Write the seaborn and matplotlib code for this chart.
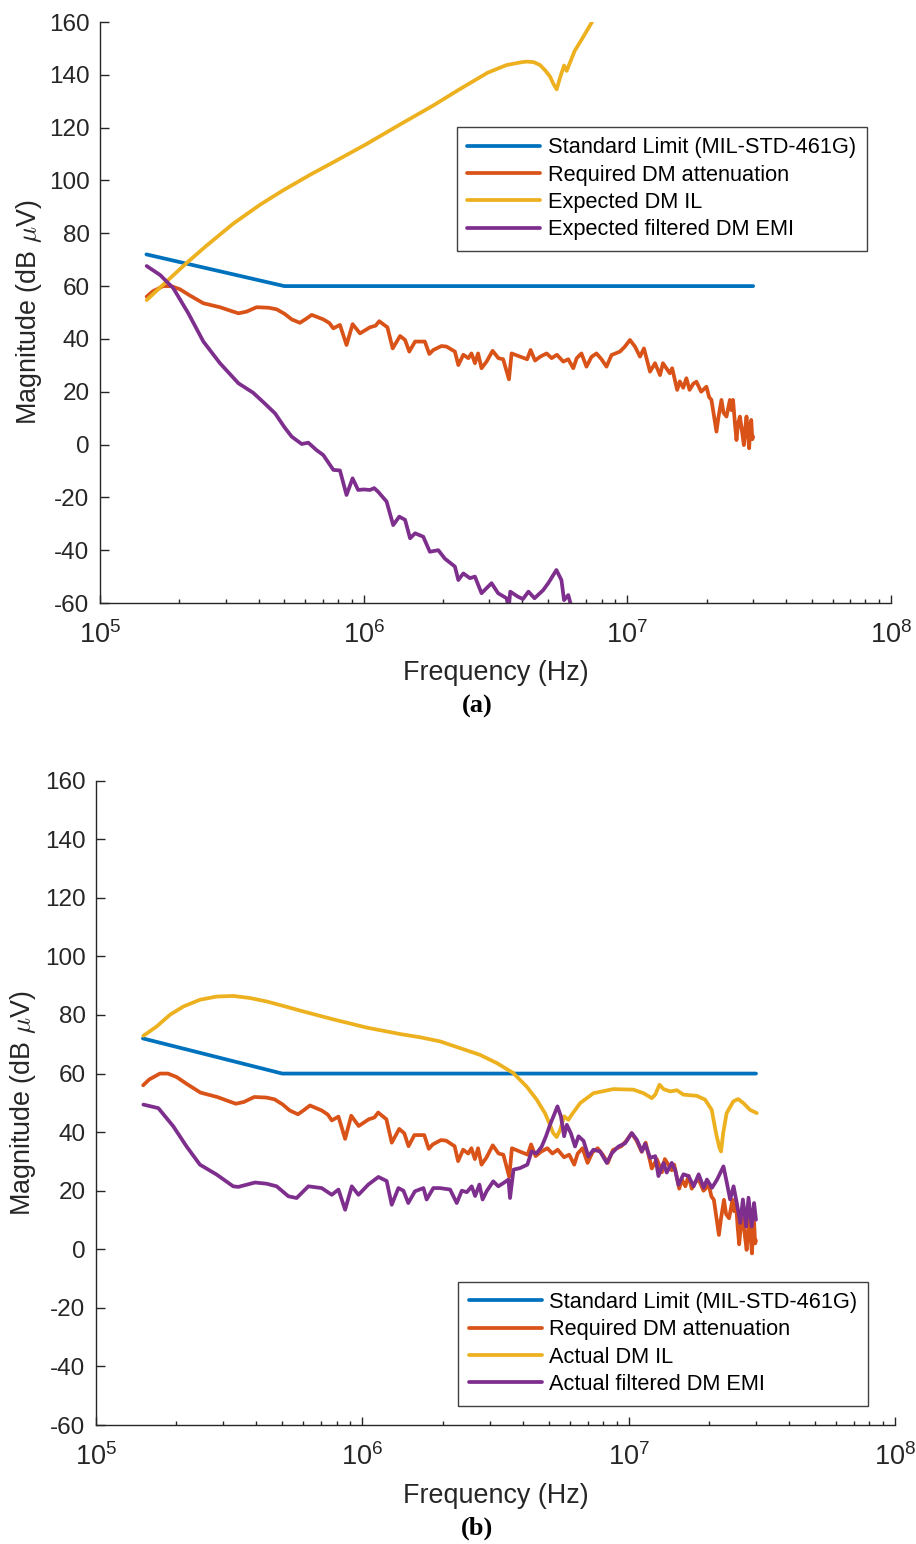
import numpy as np
import matplotlib
matplotlib.use("Agg")
import matplotlib.pyplot as plt
import seaborn as sns
from matplotlib.ticker import LogLocator, NullFormatter, MultipleLocator
from matplotlib.lines import Line2D

sns.set_style("white")
plt.rcParams["font.family"] = ["Liberation Sans", "DejaVu Sans"]
plt.rcParams["mathtext.fontset"] = "cm"
plt.rcParams["axes.unicode_minus"] = False

# ---------------------------------------------------------------- data
# MIL-STD-461G limit (frequency in Hz, level in dB uV)
limit_f = [1.5e5, 5e5, 3e7]
limit_db = [72, 60, 60]

# Required DM attenuation; frequencies stored as log10(Hz)
req_logf = [5.177, 5.200, 5.240, 5.270, 5.303, 5.340, 5.392, 5.455, 5.500, 5.525,
            5.555, 5.594, 5.640, 5.670, 5.700, 5.727, 5.758, 5.780, 5.803, 5.847,
            5.870, 5.885, 5.910, 5.935, 5.958, 5.986, 6.024, 6.045, 6.059, 6.075,
            6.090, 6.110, 6.138, 6.157, 6.173, 6.195, 6.232, 6.249, 6.264, 6.295,
            6.314, 6.346, 6.359, 6.378, 6.397, 6.409, 6.422, 6.434, 6.447, 6.466,
            6.489, 6.511, 6.529, 6.551, 6.561, 6.593, 6.620, 6.633, 6.650, 6.670,
            6.694, 6.713, 6.733, 6.757, 6.776, 6.795, 6.808, 6.826, 6.845, 6.864,
            6.883, 6.902, 6.921, 6.940, 6.972, 6.990, 7.010, 7.029, 7.048, 7.063,
            7.086, 7.105, 7.124, 7.135, 7.161, 7.170, 7.189, 7.199, 7.212, 7.224,
            7.236, 7.250, 7.262, 7.280, 7.300, 7.310, 7.319, 7.330, 7.338, 7.345,
            7.357, 7.365, 7.376, 7.389, 7.395, 7.401, 7.408, 7.414, 7.420, 7.427,
            7.435, 7.442, 7.447, 7.452, 7.457, 7.462, 7.467, 7.470, 7.474, 7.477]
req_db = [56.0, 58.0, 60.0, 60.0, 58.8, 56.5, 53.5, 52.0, 50.5, 49.7,
          50.3, 52.0, 51.8, 51.2, 49.5, 47.4, 46.1, 47.5, 49.1, 47.4,
          46.0, 44.0, 45.3, 37.7, 45.6, 42.1, 44.4, 45.0, 46.7, 45.5,
          44.4, 36.4, 41.1, 39.6, 35.2, 39.0, 39.0, 34.3, 35.8, 37.3,
          37.1, 35.2, 30.1, 34.0, 32.7, 34.5, 30.8, 34.5, 28.9, 31.4,
          35.5, 32.7, 32.3, 24.7, 34.5, 33.3, 32.3, 35.8, 31.8, 33.3,
          34.5, 32.7, 34.0, 31.4, 32.3, 28.9, 32.7, 34.5, 29.5, 33.2,
          34.5, 32.3, 29.5, 33.9, 35.2, 37.0, 39.6, 37.1, 33.3, 36.4,
          27.6, 30.8, 26.3, 30.8, 27.0, 28.9, 20.7, 23.9, 21.5, 25.1,
          20.7, 23.0, 23.8, 20.0, 21.9, 18.0, 16.9, 10.0, 4.9, 10.0,
          16.9, 12.0, 10.6, 16.9, 13.0, 16.9, 8.0, 1.7, 8.0, 10.6,
          5.0, -0.2, 6.0, 10.6, 4.0, -1.4, 8.0, 9.3, 2.0, 3.0]

# Expected DM insertion loss (designed filter)
exp_il_logf = [5.177, 5.253, 5.329, 5.405, 5.506, 5.607, 5.695, 5.796, 5.885, 6.011,
               6.138, 6.264, 6.365, 6.416, 6.470, 6.542, 6.600, 6.618, 6.645, 6.669,
               6.690, 6.707, 6.720, 6.732, 6.745, 6.760, 6.770, 6.780, 6.800, 6.833,
               6.866]
exp_il_db = [54.7, 61.8, 68.8, 75.4, 83.7, 90.8, 96.3, 102.1, 106.9, 113.8,
             121.2, 128.4, 134.6, 137.6, 140.8, 143.7, 144.8, 145.0, 144.8, 143.7,
             141.5, 139.3, 136.5, 134.5, 139.0, 143.5, 141.5, 144.0, 149.0, 154.4,
             160.0]

# Expected filtered DM EMI
exp_emi_logf = [5.177, 5.228, 5.278, 5.335, 5.392, 5.455, 5.525, 5.581, 5.620, 5.664,
                5.700, 5.727, 5.765, 5.790, 5.820, 5.847, 5.885, 5.910, 5.935, 5.958,
                5.979, 6.000, 6.024, 6.040, 6.056, 6.087, 6.112, 6.135, 6.157, 6.176,
                6.195, 6.226, 6.251, 6.283, 6.308, 6.346, 6.359, 6.378, 6.403, 6.422,
                6.447, 6.485, 6.510, 6.542, 6.550, 6.556, 6.585, 6.604, 6.625, 6.648,
                6.681, 6.700, 6.731, 6.750, 6.760, 6.776, 6.800]
exp_emi_db = [67.6, 64.2, 59.2, 49.7, 39.0, 30.8, 23.2, 19.6, 16.0, 11.8,
              6.5, 3.0, 0.2, 0.7, -2.0, -4.0, -9.6, -9.8, -19.1, -12.8,
              -17.2, -17.0, -17.2, -16.5, -18.0, -21.6, -30.5, -27.3, -28.5, -35.5,
              -33.6, -34.9, -40.6, -40.0, -43.2, -46.2, -51.3, -48.8, -50.6, -50.0,
              -56.3, -52.5, -56.3, -58.2, -62.0, -55.7, -57.6, -58.5, -55.7, -58.2,
              -55.1, -52.5, -47.5, -51.3, -58.9, -57.0, -66.0]

# Actual (measured) DM insertion loss
act_il_logf = [5.178, 5.228, 5.278, 5.328, 5.390, 5.453, 5.515, 5.578, 5.641, 5.703,
               5.766, 5.891, 6.016, 6.141, 6.216, 6.291, 6.366, 6.441, 6.504, 6.566,
               6.616, 6.654, 6.685, 6.704, 6.716, 6.729, 6.742, 6.757, 6.773, 6.785,
               6.817, 6.867, 6.942, 7.017, 7.055, 7.086, 7.099, 7.115, 7.130, 7.155,
               7.180, 7.205, 7.255, 7.286, 7.311, 7.327, 7.340, 7.346, 7.354, 7.367,
               7.392, 7.410, 7.430, 7.455, 7.480]
act_il_db = [72.9, 76.1, 80.1, 82.9, 85.2, 86.3, 86.5, 85.8, 84.6, 83.1,
             81.5, 78.5, 75.7, 73.5, 72.4, 71.0, 68.7, 66.4, 63.6, 60.2,
             55.6, 51.1, 46.5, 42.5, 39.7, 38.3, 40.8, 45.4, 44.2, 45.9,
             49.9, 53.3, 54.7, 54.5, 53.3, 51.6, 52.8, 56.2, 54.7, 53.9,
             54.3, 52.8, 52.4, 51.1, 47.6, 39.7, 34.6, 33.4, 39.7, 46.5,
             50.5, 51.3, 49.9, 47.6, 46.5]

# Actual filtered DM EMI
act_emi_logf = [5.178, 5.234, 5.290, 5.340, 5.390, 5.453, 5.515, 5.534, 5.597, 5.640,
                5.678, 5.722, 5.753, 5.797, 5.847, 5.885, 5.910, 5.935, 5.960, 5.985,
                6.022, 6.060, 6.091, 6.110, 6.135, 6.154, 6.172, 6.197, 6.229, 6.241,
                6.266, 6.291, 6.329, 6.354, 6.373, 6.392, 6.410, 6.423, 6.439, 6.451,
                6.466, 6.491, 6.510, 6.529, 6.548, 6.554, 6.567, 6.591, 6.619, 6.635,
                6.653, 6.673, 6.689, 6.704, 6.717, 6.732, 6.745, 6.757, 6.767, 6.782,
                6.798, 6.811, 6.830, 6.848, 6.867, 6.892, 6.917, 6.936, 6.961, 6.986,
                7.011, 7.030, 7.049, 7.061, 7.080, 7.099, 7.111, 7.130, 7.142, 7.161,
                7.174, 7.186, 7.205, 7.224, 7.243, 7.262, 7.281, 7.293, 7.312, 7.331,
                7.355, 7.368, 7.380, 7.393, 7.405, 7.418, 7.428, 7.440, 7.449, 7.461,
                7.470, 7.477]
act_emi_db = [49.4, 48.2, 42.0, 35.1, 28.9, 25.5, 21.5, 21.3, 22.8, 22.4,
              21.5, 18.1, 17.5, 21.5, 20.9, 18.6, 20.4, 13.5, 21.5, 18.6,
              22.1, 24.7, 23.3, 15.2, 20.9, 20.0, 15.8, 19.8, 20.9, 17.0,
              20.9, 20.9, 20.4, 15.8, 20.0, 19.5, 21.5, 18.2, 22.1, 17.0,
              19.8, 23.2, 21.5, 22.6, 23.8, 17.5, 27.2, 27.7, 28.9, 33.4,
              32.7, 35.1, 38.6, 42.5, 45.4, 48.8, 45.4, 38.6, 42.5, 39.7,
              35.1, 38.6, 37.0, 31.7, 34.0, 33.4, 29.5, 32.8, 35.1, 36.2,
              39.7, 37.4, 33.4, 36.0, 31.2, 31.8, 25.0, 29.5, 26.2, 29.5,
              27.0, 22.0, 25.6, 25.0, 21.5, 25.6, 21.0, 23.8, 21.0, 23.8,
              28.3, 22.6, 17.0, 21.5, 15.8, 9.0, 17.0, 7.8, 17.6, 7.8,
              15.8, 10.1]

# MATLAB-like default line colours
C_BLUE, C_ORANGE, C_YELLOW, C_PURPLE = "#0072BD", "#D95319", "#EDB120", "#7E2F8E"
TXT = "#262626"

panels = [
    dict(rect=[100 / 916, 1 - 603 / 1544, 791 / 916, 581 / 1544],
         il=(exp_il_logf, exp_il_db), emi=(exp_emi_logf, exp_emi_db),
         labels=["Standard Limit (MIL-STD-461G)", "Required DM attenuation",
                 "Expected DM IL", "Expected filtered DM EMI"],
         legend_anchor=(0.4513, 0.8193), ylab_x=-0.071, xlab_y=-0.098,
         tag="(a)", tag_y=706),
    dict(rect=[96 / 916, 1 - 1425 / 1544, 799.3 / 916, 644.3 / 1544],
         il=(act_il_logf, act_il_db), emi=(act_emi_logf, act_emi_db),
         labels=["Standard Limit (MIL-STD-461G)", "Required DM attenuation",
                 "Actual DM IL", "Actual filtered DM EMI"],
         legend_anchor=(0.4533, 0.2225), ylab_x=-0.073, xlab_y=-0.090,
         tag="(b)", tag_y=1528),
]

fig = plt.figure(figsize=(9.16, 15.44), dpi=100)
LW = 2.7

for p in panels:
    ax = fig.add_axes(p["rect"])
    series = [
        (np.array(limit_f, float), np.array(limit_db, float), C_BLUE),
        (10.0 ** np.array(req_logf), np.array(req_db), C_ORANGE),
        (10.0 ** np.array(p["il"][0]), np.array(p["il"][1]), C_YELLOW),
        (10.0 ** np.array(p["emi"][0]), np.array(p["emi"][1]), C_PURPLE),
    ]
    handles = []
    for (x, y, c) in series:
        sns.lineplot(x=x, y=y, ax=ax, color=c, lw=LW, estimator=None,
                     sort=False, legend=False)
        handles.append(Line2D([], [], color=c, lw=LW))

    ax.set_xscale("log")
    ax.set_xlim(1e5, 1e8)
    ax.set_ylim(-60, 160)
    ax.yaxis.set_major_locator(MultipleLocator(20))
    ax.xaxis.set_major_locator(LogLocator(base=10, numticks=10))
    ax.xaxis.set_minor_locator(LogLocator(base=10, subs=np.arange(2, 10), numticks=20))
    ax.xaxis.set_minor_formatter(NullFormatter())

    for side in ("top", "right"):
        ax.spines[side].set_visible(False)
    for side in ("left", "bottom"):
        ax.spines[side].set_color(TXT)
        ax.spines[side].set_linewidth(1.0)

    ax.tick_params(axis="both", which="both", direction="in", colors=TXT,
                   labelcolor=TXT, width=1.0)
    ax.tick_params(axis="y", which="major", length=6.7, pad=7.5, labelsize=17.5,
                   left=True, right=False)
    ax.tick_params(axis="x", which="major", length=6.0, pad=13, labelsize=19.5,
                   bottom=True, top=False)
    ax.tick_params(axis="x", which="minor", length=3.2, bottom=True, top=False)

    ax.set_xlabel("Frequency (Hz)", fontsize=19.4, color=TXT)
    ax.set_ylabel(r"Magnitude (dB $\mu$V)", fontsize=19.4, color=TXT)
    ax.xaxis.set_label_coords(0.5, p["xlab_y"])
    ax.yaxis.set_label_coords(p["ylab_x"], 0.5)

    leg = ax.legend(handles, p["labels"], loc="upper left",
                    bbox_to_anchor=p["legend_anchor"], borderaxespad=0,
                    fontsize=15.7, frameon=True, fancybox=False, framealpha=1,
                    edgecolor="0.25", handlelength=3.35, handletextpad=0.35,
                    labelspacing=0.29, borderpad=0.48)
    leg.get_frame().set_linewidth(1.0)
    for t in leg.get_texts():
        t.set_color("black")

    fig.text(477 / 916, 1 - p["tag_y"] / 1544, p["tag"], ha="center", va="center",
             family=["Liberation Serif", "DejaVu Serif"], weight="bold",
             fontsize=19, color="black")

fig.savefig("out.png", dpi=100, facecolor="white")
